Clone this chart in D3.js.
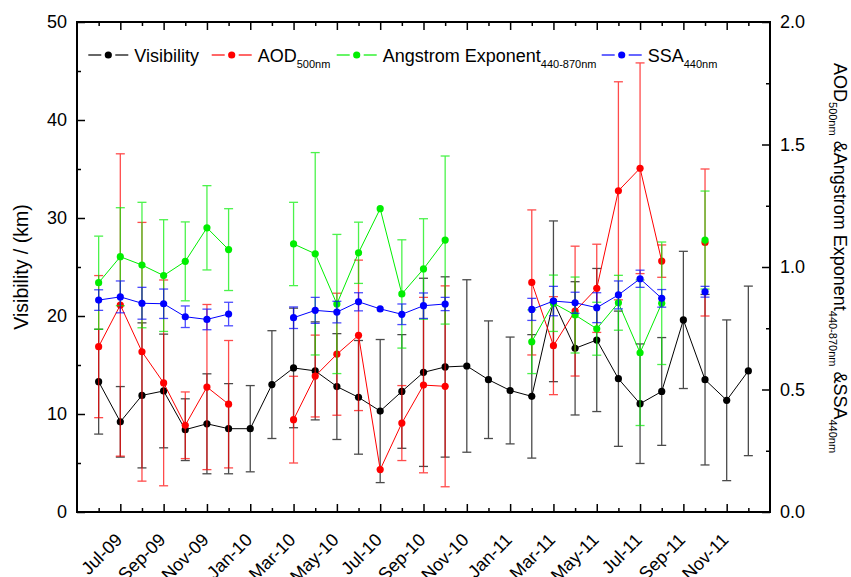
<!DOCTYPE html>
<html><head><meta charset="utf-8">
<script src="https://cdn.jsdelivr.net/npm/d3@7"></script>
<style>
body{margin:0;background:#fff}
svg{font-family:"Liberation Sans",Arial,Helvetica,sans-serif}
</style>
</head><body>
<svg id="c" width="851" height="577"></svg>
<script>
const months = ["Jun-09","Jul-09","Aug-09","Sep-09","Oct-09","Nov-09","Dec-09","Jan-10","Feb-10","Mar-10","Apr-10","May-10","Jun-10","Jul-10","Aug-10","Sep-10","Oct-10","Nov-10","Dec-10","Jan-11","Feb-11","Mar-11","Apr-11","May-11","Jun-11","Jul-11","Aug-11","Sep-11","Oct-11","Nov-11","Dec-11"];
const tickLabels = ["Jul-09","Sep-09","Nov-09","Jan-10","Mar-10","May-10","Jul-10","Sep-10","Nov-10","Jan-11","Mar-11","May-11","Jul-11","Sep-11","Nov-11"];
const leftTicks = [0,10,20,30,40,50];
const rightTicks = [0.0,0.5,1.0,1.5,2.0];

const visibility = [13.3,9.2,11.9,12.35,8.4,9.0,8.5,8.5,13.0,14.7,14.4,12.8,11.7,10.3,12.3,14.25,14.8,14.9,13.5,12.4,11.8,21.5,16.7,17.55,13.6,11.05,12.3,19.6,13.5,11.4,14.4];
const visibilityErr = [5.35,3.6,7.4,5.8,3.15,5.1,4.6,4.4,5.5,6.1,5.0,5.4,5.8,7.3,5.8,9.6,9.2,8.8,6.0,5.45,6.3,8.2,6.8,7.3,6.9,6.1,5.5,7.0,8.7,8.2,8.65];

const aod = [0.675,0.845,0.654,0.527,0.354,0.51,0.44,null,null,0.377,0.555,0.644,0.721,0.173,0.363,0.518,0.513,null,null,null,0.937,0.679,0.82,0.913,1.311,1.403,1.024,null,1.10,null,null];
const aodErr = [0.29,0.617,0.528,0.42,0.136,0.337,0.26,null,null,0.177,0.167,0.249,0.307,0,0.153,0.358,0.41,null,null,null,0.296,0.2,0.265,0.18,0.445,0.43,0.066,null,0.3,null,null];

const angstrom = [0.936,1.042,1.008,0.965,1.023,1.160,1.071,null,null,1.094,1.054,0.849,1.058,1.238,0.890,0.992,1.110,null,null,null,0.695,0.852,0.804,0.748,0.854,0.65,0.852,null,1.110,null,null];
const angstromErr = [0.19,0.2,0.256,0.228,0.161,0.172,0.167,null,null,0.17,0.413,0.284,0.125,0,0.221,0.205,0.343,null,null,null,0.13,0.115,0.155,0.108,0.112,0.297,0.25,null,0.2,null,null];

const ssa = [0.865,0.878,0.852,0.850,0.797,0.786,0.808,null,null,0.793,0.823,0.816,0.858,0.829,0.807,0.842,0.849,null,null,null,0.827,0.861,0.854,0.834,0.886,0.952,0.872,null,0.899,null,null];
const ssaErr = [0.042,0.065,0.065,0.06,0.044,0.042,0.048,null,null,0.044,0.053,0.044,0.037,0,0.042,0.052,0.027,null,null,null,0.045,0.06,0.043,0.061,0.057,0.035,0.036,null,0.022,null,null];

const svg = d3.select("#c");
const L = 77, R = 770, T = 22, B = 512;
const x = d3.scaleLinear().domain([-1, 31]).range([L, R]);
const yL = d3.scaleLinear().domain([0, 50]).range([B, T]);
const yR = d3.scaleLinear().domain([0, 2]).range([B, T]);

const series = [
  {name:"Visibility", vals:visibility, err:visibilityErr, color:"#000000", y:yL},
  {name:"AOD", vals:aod, err:aodErr, color:"#ff0000", y:yR},
  {name:"Angstrom", vals:angstrom, err:angstromErr, color:"#00ee00", y:yR},
  {name:"SSA", vals:ssa, err:ssaErr, color:"#0000ff", y:yR}
];

const plot = svg.append("g");
series.forEach(s => {
  const g = plot.append("g");
  const pts = s.vals.map((v,i)=>({i, v, e:s.err[i]})).filter(d=>d.v!=null);
  const eb = g.append("g").attr("stroke", s.color).attr("stroke-width",1.3).attr("opacity",0.7);
  pts.filter(d=>d.e>0).forEach(d=>{
    const x0 = x(d.i), y1 = s.y(d.v + d.e), y0 = s.y(d.v - d.e);
    eb.append("line").attr("x1",x0).attr("x2",x0).attr("y1",y1).attr("y2",y0);
    eb.append("line").attr("x1",x0-4.5).attr("x2",x0+4.5).attr("y1",y1).attr("y2",y1);
    eb.append("line").attr("x1",x0-4.5).attr("x2",x0+4.5).attr("y1",y0).attr("y2",y0);
  });
  const line = d3.line().defined(d=>d.v!=null).x(d=>x(d.i)).y(d=>s.y(d.v));
  g.append("path").datum(s.vals.map((v,i)=>({i,v})))
    .attr("d", line).attr("fill","none").attr("stroke", s.color).attr("stroke-width",1);
  g.selectAll("circle").data(pts).join("circle")
    .attr("cx", d=>x(d.i)).attr("cy", d=>s.y(d.v)).attr("r",3.6).attr("fill", s.color);
});

// Frame
svg.append("rect").attr("x",L).attr("y",T).attr("width",R-L).attr("height",B-T)
  .attr("fill","none").attr("stroke","#000").attr("stroke-width",2);

function styleAxis(g){
  g.select(".domain").remove();
  g.selectAll(".tick line").attr("stroke","#000").attr("stroke-width",1.5);
  g.selectAll("text").attr("font-size",18).attr("fill","#000");
}
const majorX = d3.range(1, 31, 2);
const minorX = d3.range(0, 31, 2);
// bottom
svg.append("g").attr("transform",`translate(0,${B})`)
  .call(d3.axisBottom(x).tickValues(majorX).tickSize(-8).tickFormat(""))
  .call(styleAxis);
svg.append("g").attr("transform",`translate(0,${B})`)
  .call(d3.axisBottom(x).tickValues(minorX).tickSize(-4).tickFormat(""))
  .call(styleAxis);
// top
svg.append("g").attr("transform",`translate(0,${T})`)
  .call(d3.axisTop(x).tickValues(majorX).tickSize(-8).tickFormat(""))
  .call(styleAxis);
svg.append("g").attr("transform",`translate(0,${T})`)
  .call(d3.axisTop(x).tickValues(minorX).tickSize(-4).tickFormat(""))
  .call(styleAxis);
// left
svg.append("g").attr("transform",`translate(${L},0)`)
  .call(d3.axisLeft(yL).tickValues(leftTicks).tickSize(-8).tickPadding(10).tickFormat(d3.format("d")))
  .call(styleAxis);
svg.append("g").attr("transform",`translate(${L},0)`)
  .call(d3.axisLeft(yL).tickValues([5,15,25,35,45]).tickSize(-4).tickFormat(""))
  .call(styleAxis);
// right
svg.append("g").attr("transform",`translate(${R},0)`)
  .call(d3.axisRight(yR).tickValues(rightTicks).tickSize(-8).tickPadding(10).tickFormat(d3.format(".1f")))
  .call(styleAxis);
svg.append("g").attr("transform",`translate(${R},0)`)
  .call(d3.axisRight(yR).tickValues([0.25,0.75,1.25,1.75]).tickSize(-4).tickFormat(""))
  .call(styleAxis);

// Bottom rotated labels
svg.append("g").selectAll("text").data(tickLabels).join("text")
  .attr("transform",(d,k)=>`translate(${x(majorX[k])+3},541) rotate(-45)`)
  .attr("text-anchor","end").attr("font-size",18).text(d=>d);

// Left title
svg.append("text").attr("transform",`translate(28,267) rotate(-90)`)
  .attr("text-anchor","middle").attr("font-size",19.5).text("Visibility / (km)");

// Right title
const rt = svg.append("text").attr("transform",`translate(834,63) rotate(90)`).attr("font-size",18);
rt.append("tspan").text("AOD");
rt.append("tspan").attr("font-size",11).attr("dy",5).text("500nm");
rt.append("tspan").attr("dy",-5).text(" &Angstrom Exponent");
rt.append("tspan").attr("font-size",11).attr("dy",5).text("440-870nm");
rt.append("tspan").attr("dy",-5).text(" &SSA");
rt.append("tspan").attr("font-size",11).attr("dy",5).text("440nm");

// Legend
const legendItems = [
  {label:"Visibility", sub:"", color:"#000000", cx:108.3},
  {label:"AOD", sub:"500nm", color:"#ff0000", cx:231.7},
  {label:"Angstrom Exponent", sub:"440-870nm", color:"#00ee00", cx:356.7},
  {label:"SSA", sub:"440nm", color:"#0000ff", cx:621.7}
];
const lg = svg.append("g");
legendItems.forEach(it=>{
  const ly = 55;
  lg.append("line").attr("x1",it.cx-20).attr("x2",it.cx-7).attr("y1",ly).attr("y2",ly).attr("stroke",it.color).attr("stroke-width",1.2);
  lg.append("line").attr("x1",it.cx+7).attr("x2",it.cx+20).attr("y1",ly).attr("y2",ly).attr("stroke",it.color).attr("stroke-width",1.2);
  lg.append("circle").attr("cx",it.cx).attr("cy",ly).attr("r",3.6).attr("fill",it.color);
  const t = lg.append("text").attr("x",it.cx+26).attr("y",ly+7).attr("font-size",18).text(it.label);
  if (it.sub) t.append("tspan").attr("font-size",11).attr("dy",6).text(it.sub);
});
</script>
</body></html>
